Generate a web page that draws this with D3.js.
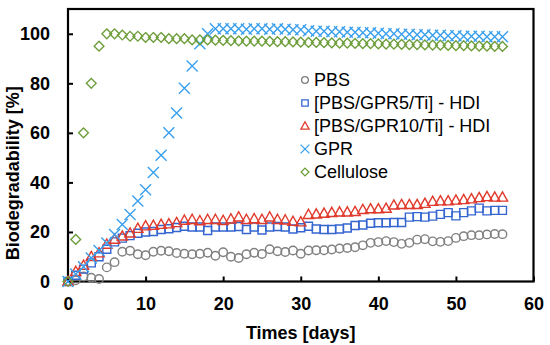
<!DOCTYPE html>
<html>
<head>
<meta charset="utf-8">
<script src="https://cdn.jsdelivr.net/npm/d3@7"></script>
<style>
  body { margin: 0; background: #fff; }
  svg { display: block; font-family: "Liberation Sans", Arial, sans-serif; }
</style>
</head>
<body>
<svg width="550" height="345"></svg>
<script>
// sampling days
var days = [0,1,2,3,4,5,6,7,8,9,10,11,12,13,14,15,16,17,18,19,20,
  21,22,23,24,25,26,27,28,29,30,31,32,33,34,35,36,37,38,39,40,
  41,42,43,44,45,46,47,48,49,50,51,52,53,54,55,56];

var pbs = [0,0.5,2,1.5,1,5.7,7.8,12,12.4,11,10.6,12,12.4,12.2,11.5,11.2,11,11.2,11.6,10.4,11.8,
  10,9.5,11,11.6,11.1,13,12.2,11.9,12.5,11.2,12.5,12.6,12.6,12.9,13.3,13.5,13.8,14.6,15.6,15.9,
  16.3,15.9,15.2,15.6,16.9,17.1,16.2,16,16.3,17.6,18.3,18.7,18.7,19,19.2,19.1];

var gpr5 = [0,2.5,5,7.5,10,13,16,17.5,18.5,19.5,20,20.2,21,21.3,21.8,22.3,22,22,20.6,22,22,
  22,22.2,21,22,20.8,22,22.2,22,21.2,21.7,22.3,21.2,21,21,21.2,21.6,22.6,22.8,23.5,23.7,
  23.7,23.8,23.8,26,26.2,26,26.4,27.1,27.8,26.5,27.8,28.5,29.6,28.5,28.7,28.7];

var gpr10 = [0,4,6.5,10,11.5,15,17,18.3,19.5,21.4,22.4,22.6,23,23.2,23.7,24.7,25,24.5,25,25,24.6,
  25.2,26,25,25.3,25,26,25,24.8,24.2,24,27,27.2,27.5,27.8,28,28,28.2,29,29.3,29.3,
  29.5,30.8,31,31,31,31.5,32.3,32.5,32.5,32.8,33,33.3,33.8,34.2,34,34];

var gpr = [0,3,6,9.5,12.5,15.5,19,23,27,32.5,37,44,51,60,68,78,87,96,100,102,102,
  102,102,101.8,102,102,101.8,102,101.8,101.6,101.6,101.2,101,101,100.8,100.8,100.6,100.6,100.4,100.4,100.2,
  100,100,99.8,99.8,99.6,99.6,99.4,99.4,99.2,99.2,99,99,99,98.8,98.8,98.8];

var cellulose = [0,17,60,80,95,100,100,99.5,99,99,98.5,98.5,98.5,98,98,98,97.5,97.5,97.5,97.4,97.3,
  97.2,97.1,97,97,97,96.9,96.8,96.8,96.7,96.6,96.5,96.5,96.4,96.3,96.2,96.2,96.1,96,96,95.9,
  95.8,95.8,95.7,95.6,95.6,95.5,95.4,95.4,95.3,95.2,95.2,95.1,95,95,94.9,94.9];

var xTicks = [0,10,20,30,40,50,60];
var yTicks = [0,20,40,60,80,100];

var seriesNames = ["PBS", "[PBS/GPR5/Ti] - HDI", "[PBS/GPR10/Ti] - HDI", "GPR", "Cellulose"];
var seriesValues = [pbs, gpr5, gpr10, gpr, cellulose];
var seriesColors = ["#808080", "#3566d0", "#e03a2c", "#3aa0ee", "#6e9e3c"];
var seriesShapes = ["circle", "square", "triangle", "cross", "diamond"];

var svg = d3.select("svg");
var plotLeft = 68, plotRight = 533.5, plotTop = 9, plotBottom = 281.5;

var x = d3.scaleLinear().domain([0, 60]).range([plotLeft, plotRight]);
var y = d3.scaleLinear().domain([0, 110]).range([plotBottom, plotTop]);

function markerPath(shape, s) {
  if (shape == "circle") {
    return d3.symbol().type(d3.symbolCircle).size(s * s * 0.8)();
  }
  if (shape == "square") {
    var h = s / 2;
    return "M" + -h + "," + -h + "H" + h + "V" + h + "H" + -h + "Z";
  }
  if (shape == "triangle") {
    var w = s * 0.6;
    return "M0," + (-s * 0.62) + "L" + w + "," + (s * 0.45) + "L" + -w + "," + (s * 0.45) + "Z";
  }
  if (shape == "diamond") {
    var a = s * 0.58;
    return "M0," + -a + "L" + a + ",0L0," + a + "L" + -a + ",0Z";
  }
  var c = s * 0.55;
  return "M" + -c + "," + -c + "L" + c + "," + c + "M" + c + "," + -c + "L" + -c + "," + c;
}

var sizes = [8.4, 8, 8.6, 10, 8.4];

// axes
var xAxis = svg.append("g")
  .attr("transform", "translate(0," + plotBottom + ")")
  .call(d3.axisBottom(x).tickValues(xTicks).tickSizeInner(-5).tickSizeOuter(0).tickPadding(16));
var yAxis = svg.append("g")
  .attr("transform", "translate(" + plotLeft + ",0)")
  .call(d3.axisLeft(y).tickValues(yTicks).tickSizeInner(-5).tickSizeOuter(0).tickPadding(18));

[xAxis, yAxis].forEach(function(g) {
  g.select(".domain").remove();
  g.selectAll(".tick line").attr("stroke", "#000").attr("stroke-width", 2);
  g.selectAll(".tick text")
    .attr("fill", "#000")
    .style("font-size", "18px")
    .style("font-weight", "bold")
    .style("font-family", "'Liberation Sans', Arial, sans-serif");
});

// frame
svg.append("rect")
  .attr("x", plotLeft).attr("y", plotTop)
  .attr("width", plotRight - plotLeft).attr("height", plotBottom - plotTop)
  .attr("fill", "none").attr("stroke", "#000").attr("stroke-width", 2.2);

// markers
seriesValues.forEach(function(vals, i) {
  svg.append("g")
    .selectAll("path")
    .data(vals)
    .enter().append("path")
    .attr("transform", function(d, j) {
      return "translate(" + x(days[j]) + "," + y(d) + ")";
    })
    .attr("d", markerPath(seriesShapes[i], sizes[i]))
    .attr("fill", "none")
    .attr("stroke", seriesColors[i])
    .attr("stroke-width", 1.4);
});

// legend
var legend = svg.append("g").attr("transform", "translate(305,80)");
seriesNames.forEach(function(name, i) {
  var row = legend.append("g").attr("transform", "translate(0," + (i * 23) + ")");
  row.append("path")
    .attr("d", markerPath(seriesShapes[i], sizes[i] * 0.8))
    .attr("fill", "none")
    .attr("stroke", seriesColors[i])
    .attr("stroke-width", 1.3);
  row.append("text")
    .attr("x", 9)
    .attr("y", 0)
    .attr("dy", "0.35em")
    .style("font-size", "18px")
    .text(name);
});

// axis titles
svg.append("text")
  .attr("x", (plotLeft + plotRight) / 2)
  .attr("y", 339)
  .attr("text-anchor", "middle")
  .style("font-size", "18px")
  .style("font-weight", "bold")
  .text("Times [days]");

svg.append("text")
  .attr("transform", "translate(19," + ((plotTop + plotBottom) / 2 + 28) + ") rotate(-90)")
  .attr("text-anchor", "middle")
  .style("font-size", "18px")
  .style("font-weight", "bold")
  .text("Biodegradability [%]");
</script>
</body>
</html>
